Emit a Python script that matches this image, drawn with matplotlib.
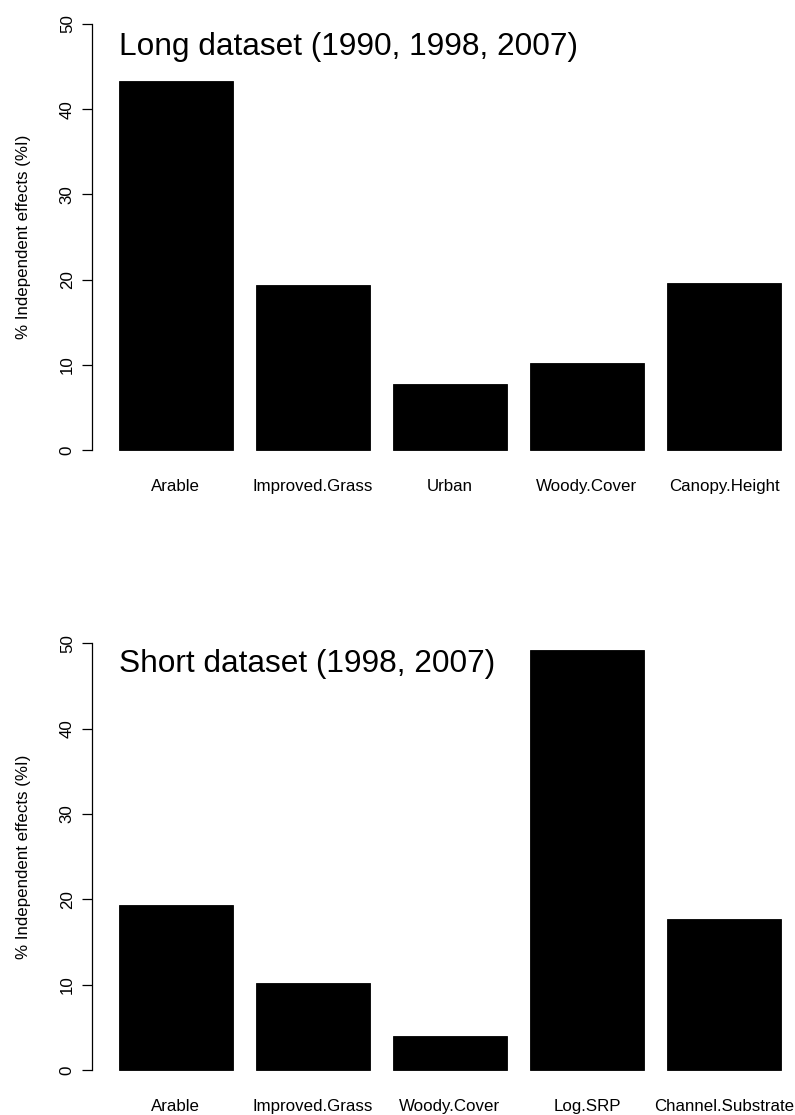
import matplotlib
matplotlib.use("Agg")
import matplotlib.pyplot as plt

plt.rcParams["font.family"] = ["Liberation Sans", "DejaVu Sans"]

# Independent effects (%I) from hierarchical partitioning
long_title = "Long dataset (1990, 1998, 2007)"
long_vars = ["Arable", "Improved.Grass", "Urban", "Woody.Cover", "Canopy.Height"]
long_vals = [43.3, 19.4, 7.75, 10.25, 19.55]

short_title = "Short dataset (1998, 2007)"
short_vars = ["Arable", "Improved.Grass", "Woody.Cover", "Log.SRP", "Channel.Substrate"]
short_vals = [19.4, 10.2, 3.95, 49.2, 17.65]

ylab = "% Independent effects (%I)"
yticks = [0, 10, 20, 30, 40, 50]

W, H = 795, 1115
fig = plt.figure(figsize=(W / 100, H / 100), dpi=100)

# plot regions in pixels: (left, top, right, bottom)
regions = [(92.2, 7.0, 807.6, 467.0), (92.2, 626.4, 807.6, 1087.1)]
title_y = [46.36, 46.68]

TXT = 12.2   # pt
TTL = 22.8   # pt


def barpanel(reg, names, vals, title, ty):
    l, t, r, b = reg
    ax = fig.add_axes([l / W, 1 - b / H, (r - l) / W, (b - t) / H])
    n = len(vals)
    width, space = 1.0, 0.2
    centers = [space + width / 2 + i * (width + space) for i in range(n)]
    ax.bar(centers, vals, width=width, color="black", edgecolor="black",
           linewidth=0.6)
    right = n * (width + space)
    pad = 0.04 * (right - space)
    ax.set_xlim(space - pad, right + pad)
    ax.set_ylim(-2, 52)

    for s in ("top", "right", "bottom"):
        ax.spines[s].set_visible(False)
    ax.spines["left"].set_bounds(0, 50)
    ax.spines["left"].set_linewidth(0.9)

    ax.set_yticks(yticks)
    ax.set_yticklabels([str(v) for v in yticks], rotation=90, va="center",
                       fontsize=TXT)
    ax.tick_params(axis="y", length=7.2, width=0.9, pad=5.3, color="black")

    ax.set_xticks(centers)
    ax.set_xticklabels(names, fontsize=TXT)
    ax.tick_params(axis="x", length=0, pad=8.3)

    ax.set_ylabel(ylab, fontsize=TXT)
    ax.yaxis.set_label_coords((30.8 - l) / (r - l), 0.5)

    ax.text(space, ty, title, fontsize=TTL, ha="left", va="baseline")
    return ax


barpanel(regions[0], long_vars, long_vals, long_title, title_y[0])
barpanel(regions[1], short_vars, short_vals, short_title, title_y[1])

fig.savefig("out.png", dpi=100, facecolor="white")
